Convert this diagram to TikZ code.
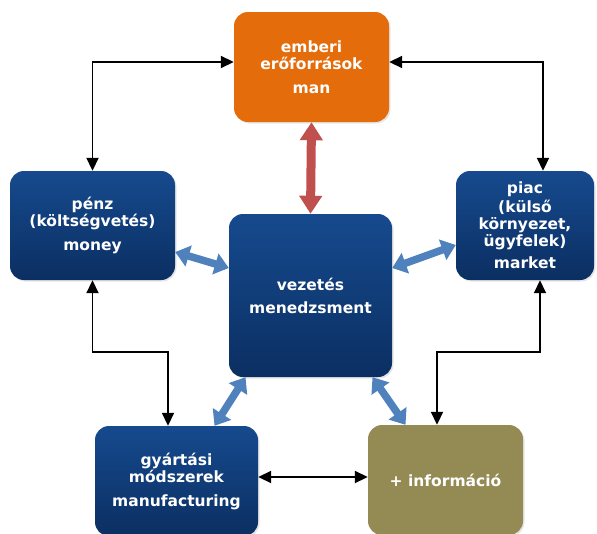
\documentclass[tikz,border=0pt]{standalone}
\usepackage{fontspec}
\newfontfamily\boxfont{DejaVu Sans Bold}
\usetikzlibrary{arrows.meta,shadows}
\definecolor{boxtop}{RGB}{22,74,142}
\definecolor{boxbot}{RGB}{11,47,98}
\definecolor{manorange}{RGB}{228,108,10}
\definecolor{infoolive}{RGB}{148,138,84}
\definecolor{fatblue}{RGB}{79,129,189}
\definecolor{fatred}{RGB}{192,80,77}
\tikzset{
  res/.style={rounded corners=14pt, inner sep=0pt, align=center, text=white,
    font=\boxfont\fontsize{15.5}{17}\selectfont,
    drop shadow={opacity=0.2, shadow xshift=1.5pt, shadow yshift=-1.5pt}},
  bluebox/.style={res, top color=boxtop, bottom color=boxbot},
  link/.style={{Triangle[width=12pt,length=13pt]}-{Triangle[width=12pt,length=13pt]}, line width=1.8pt},
  fatlink/.style={{Triangle[width=21pt,length=14pt]}-{Triangle[width=21pt,length=14pt]}, line width=7.5pt, fatblue},
}
\begin{document}
\begin{tikzpicture}[x=1pt,y=-1pt]
\useasboundingbox (0,0) rectangle (597,533);
% resources
\node[res, fill=manorange, minimum width=155pt, minimum height=110pt] (man) at (311.5,67)
  {emberi\\erőforrások\\[7pt]man};
\node[bluebox, minimum width=165pt, minimum height=109pt] (money) at (92.5,225.5)
  {pénz\\(költségvetés)\\[7pt]money};
\node[bluebox, minimum width=138pt, minimum height=109pt] (market) at (525,225.5)
  {piac\\[2pt](külső\\környezet,\\ügyfelek)\\[5pt]market};
\node[bluebox, minimum width=163pt, minimum height=163pt] (mgmt) at (310.5,295.5)
  {vezetés\\[6pt]menedzsment};
\node[bluebox, minimum width=163pt, minimum height=110pt] (manuf) at (176.5,481)
  {gyártási\\módszerek\\[7pt]manufacturing};
\node[res, fill=infoolive, minimum width=155pt, minimum height=110pt] (info) at (445.5,480)
  {+ információ};
% black connectors
\draw[link] ([yshift=5pt]man.west) -| (money.north);
\draw[link] ([yshift=5pt]man.east) -| ([xshift=18pt]market.north);
\draw[link] (money.south) -- ++(0,72) -| ([xshift=-8.5pt]manuf.north);
\draw[link] ([xshift=15pt]market.south) -- ++(0,72) -| ([xshift=-8.5pt]info.north);
\draw[link] ([yshift=4pt]manuf.east) -- ([yshift=3pt]info.west);
% fat arrows to the centre
\draw[{Triangle[width=22pt,length=18pt]}-{Triangle[width=22pt,length=18pt]}, line width=9pt, fatred]
  (man.south) -- (mgmt.north);
\draw[fatlink] ([yshift=27.5pt]mgmt.west) -- ([yshift=-26.5pt]money.east);
\draw[fatlink] ([yshift=27.5pt]mgmt.east) -- ([yshift=-19.5pt]market.west);
\draw[fatlink] ([xshift=-65pt]mgmt.south) -- ([xshift=38pt]manuf.north);
\draw[fatlink] ([xshift=62pt]mgmt.south) -- ([xshift=-40pt]info.north);
\end{tikzpicture}
\end{document}
